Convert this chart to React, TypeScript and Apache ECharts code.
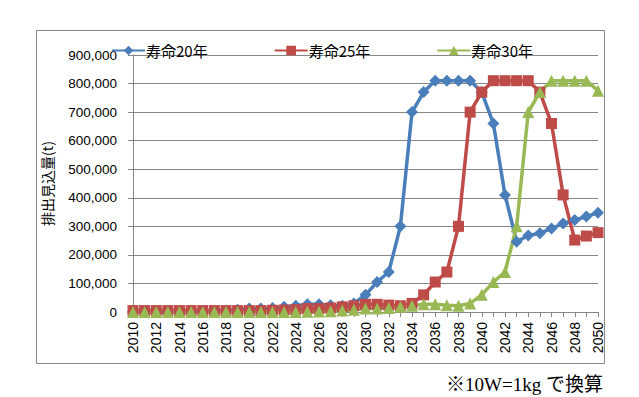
import React, { useEffect, useRef } from "react";
import * as echarts from "echarts";

const years: string[] = [];
for (let y = 2010; y <= 2050; y++) years.push(String(y));

const life20 = [
  0, 0, 0, 0, 0, 1000, 2000, 3000, 5000, 8000,
  12000, 12000, 14000, 18000, 22000, 27000, 27000, 24000, 22000, 30000,
  60000, 105000, 140000, 300000, 700000, 770000, 810000, 810000, 810000, 810000,
  770000, 660000, 410000, 246000, 268000, 276000, 292000, 310000, 322000, 334000,
  348000,
];
const life25 = [
  5000, 5000, 5000, 5000, 5000, 5000, 5000, 5000, 5000, 5000,
  5000, 5000, 6000, 7000, 8000, 12000, 12000, 14000, 18000, 22000,
  27000, 27000, 24000, 22000, 30000, 60000, 105000, 140000, 300000, 700000,
  770000, 810000, 810000, 810000, 810000, 770000, 660000, 410000, 252000, 266000,
  278000,
];
const life30 = [
  0, 0, 0, 0, 0, 0, 0, 0, 0, 0,
  0, 0, 0, 0, 0, 1000, 2000, 3000, 5000, 8000,
  12000, 12000, 14000, 18000, 22000, 27000, 27000, 24000, 22000, 30000,
  60000, 105000, 140000, 300000, 700000, 770000, 810000, 810000, 810000, 810000,
  775000,
];
const seriesNames = ["寿命20年", "寿命25年", "寿命30年"];
const yAxisName = "排出見込量(t)";
const footnote = "※10W=1kg で換算";

const GRID = "#878787";
const JP = "'Noto Sans CJK JP', sans-serif";
const NUM = "'Liberation Sans', Arial, sans-serif";

export default function App() {
  const ref = useRef<HTMLDivElement>(null);
  useEffect(() => {
    if (!ref.current) return;
    const chart = echarts.init(ref.current, null, { renderer: "svg" });
    const mk = (name: string, data: number[], color: string, symbol: string, size: number) => ({
      name,
      type: "line",
      data,
      symbol,
      symbolSize: size,
      showAllSymbol: true,
      lineStyle: { color, width: 3.5 },
      itemStyle: { color },
    });
    chart.setOption({
      animation: false,
      backgroundColor: "#fff",
      graphic: [
        {
          type: "rect",
          shape: { x: 36.5, y: 30.5, width: 568, height: 333 },
          style: { fill: "none", stroke: GRID, lineWidth: 1 },
          silent: true,
        },
        {
          type: "text",
          left: 446,
          top: 375,
          style: {
            text: footnote,
            font: "19px 'Liberation Serif', 'Noto Sans CJK JP', serif",
            fill: "#000",
          },
        },
      ],
      legend: {
        left: 106,
        top: 38,
        itemWidth: 33,
        itemHeight: 12,
        itemGap: 66,
        textStyle: { fontSize: 15, color: "#000", fontFamily: JP, padding: [0, 0, 0, -4] },
        data: seriesNames,
      },
      grid: { left: 133, right: 41, top: 55, bottom: 85, containLabel: false },
      xAxis: {
        type: "category",
        data: years,
        boundaryGap: false,
        axisLine: { lineStyle: { color: GRID, width: 1 } },
        axisTick: { interval: 0, length: 5, lineStyle: { color: GRID } },
        axisLabel: {
          interval: 1,
          rotate: 90,
          margin: 10,
          fontSize: 14,
          color: "#000",
          fontFamily: NUM,
        },
        splitLine: { show: false },
      },
      yAxis: {
        type: "value",
        min: 0,
        max: 900000,
        interval: 100000,
        name: yAxisName,
        nameLocation: "middle",
        nameGap: 79,
        nameRotate: 90,
        nameTextStyle: { fontSize: 14, color: "#000", fontFamily: JP },
        axisLine: { show: true, lineStyle: { color: GRID, width: 1 } },
        axisTick: { show: true, length: 5, lineStyle: { color: GRID } },
        axisLabel: {
          margin: 16,
          fontSize: 13.5,
          color: "#000",
          fontFamily: NUM,
          formatter: (v: number) => v.toLocaleString("en-US"),
        },
        splitLine: { lineStyle: { color: GRID, width: 1 } },
      },
      series: [
        mk(seriesNames[0], life20, "#4A7EBB", "diamond", 12),
        mk(seriesNames[1], life25, "#BE4B48", "rect", 11),
        mk(seriesNames[2], life30, "#98B954", "triangle", 12),
      ],
    });
    return () => chart.dispose();
  }, []);
  return (
    <div
      ref={ref}
      style={{ position: "fixed", left: 0, top: 0, width: 639, height: 397, background: "#fff" }}
    />
  );
}
